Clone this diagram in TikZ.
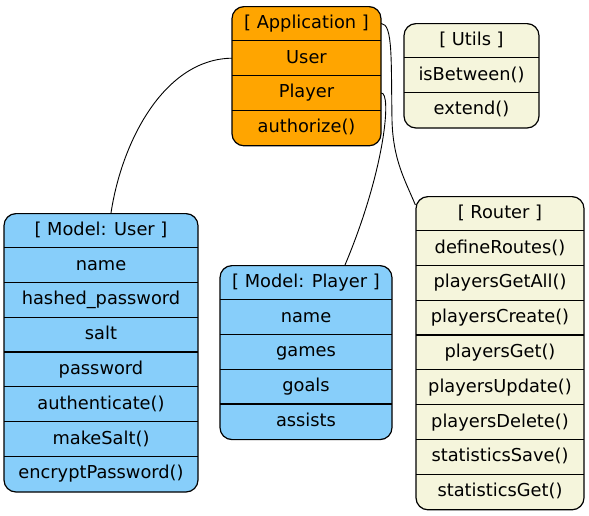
\documentclass[tikz,border=0pt]{standalone}
\usepackage{fontspec}
\setmainfont{DejaVu Sans}
\definecolor{apporange}{RGB}{255,165,0}
\definecolor{modelblue}{RGB}{135,206,250}
\definecolor{beigebox}{RGB}{245,245,220}
\tikzset{
  rec/.style={draw=black, line width=1.2pt, rounded corners=12pt, inner sep=0pt},
  field/.style={inner sep=0pt, minimum height=34.8pt, text height=13.2pt, text depth=3.6pt, text=black, font=\fontsize{17.8}{20}\selectfont},
  divider/.style={draw=black, line width=1.2pt},
  link/.style={draw=black, line width=0.9pt},
}
% #1 name, #2 cx, #3 top, #4 width, #5 fill, #6 rows, #7 labels
\newcommand\drawrecord[7]{%
  \node[rec, fill=#5, minimum width=#4pt, minimum height=#6*34.8pt, anchor=north] (#1) at (#2,#3) {};
  \foreach \t [count=\i] in {#7} {%
    \node[field, minimum width=#4pt] (#1-\i) at (#2,#3+\i*34.8-17.4) {\t};
    \ifnum\i>1 \draw[divider] (#1-\i.north west) -- (#1-\i.north east);\fi
  }%
}
\begin{document}
\begin{tikzpicture}[x=1pt,y=-1pt]
\useasboundingbox (0,0) rectangle (589,515);
\drawrecord{app}{306.5}{6}{149}{apporange}{4}{{[ Application ]},User,Player,authorize()}
\drawrecord{utils}{471.5}{23}{135}{beigebox}{3}{{[ Utils ]},isBetween(),extend()}
\drawrecord{user}{101}{213}{194}{modelblue}{8}{{[ Model: User ]},name,hashed\_password,salt,password,authenticate(),makeSalt(),encryptPassword()}
\drawrecord{player}{306}{265}{172}{modelblue}{5}{{[ Model: Player ]},name,games,goals,assists}
\drawrecord{router}{500}{196}{168}{beigebox}{9}{{[ Router ]},defineRoutes(),playersGetAll(),playersCreate(),playersGet(),playersUpdate(),playersDelete(),statisticsSave(),statisticsGet()}
\draw[link] (app-2.west) .. controls (165,59) and (122,140) .. ([xshift=10pt]user.north);
\draw[link] (app-3.east) .. controls (392,92) and (385,170) .. ([xshift=39pt]player.north);
\draw[link] (app-1.east) .. controls (393,24) and (391,60) .. (392,120) .. controls (393,160) and (405,180) .. ([yshift=-9pt]router.north west);
\end{tikzpicture}
\end{document}
